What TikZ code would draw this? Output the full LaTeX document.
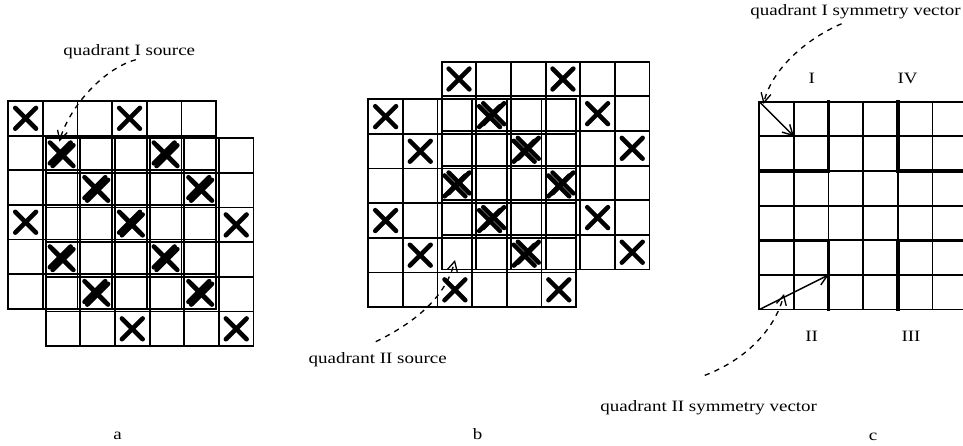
\documentclass[tikz,border=0pt]{standalone}
\usepackage{fontspec}
\setmainfont{Liberation Serif}
\usetikzlibrary{arrows.meta}

\begin{document}
\begin{tikzpicture}[x=0.02cm, y=-0.02cm]

\tikzset{
    cellline/.style={line width=1pt, line cap=rect},
    quadline/.style={line width=1.9pt, line cap=rect},
    cross/.style={line width=2.6pt, line cap=round},
    lbl/.style={font=\fontsize{9}{10.8}\selectfont, xscale=1.2, inner sep=0pt},
    callout/.style={dashed, line width=0.75pt, -{Straight Barb[length=1.9mm, width=2mm]}},
    symvec/.style={line width=0.8pt, -{Straight Barb[length=2mm, width=2.2mm]}}
}

\path[use as bounding box, fill=white] (0,0) rectangle (963,446);

\def\cs{0.693cm}

%====================================================
% LEFT (a): two layers, second one down-right
%====================================================
\foreach \ox/\oy in {8.3/101, 45.7/138.3}{
\begin{scope}[shift={(\ox,\oy)}, x=\cs, y=-\cs]
    % cells
    \foreach \i in {0,...,6}{
        \draw[cellline] (\i,0) -- (\i,6);
        \draw[cellline] (0,\i) -- (6,\i);
    }
    % crosses on every third diagonal
    \foreach \r in {0,...,5}{
        \foreach \c in {0,...,5}{
            \pgfmathtruncatemacro{\m}{mod(\c-\r+6,3)}
            \ifnum\m=0
                \draw[cross] (\c+0.2,\r+0.2) -- (\c+0.8,\r+0.8);
                \draw[cross] (\c+0.8,\r+0.2) -- (\c+0.2,\r+0.8);
            \fi
        }
    }
\end{scope}
}

\node[lbl, anchor=base west] (srcI) at (63,56) {quadrant I source};
\coordinate (srcIpt) at (59.3,141.7);
\draw[callout] ([xshift=0.13cm]srcI.south) .. controls (105,68) and (70,105) .. (srcIpt);

\node[lbl, anchor=base] (capA) at (117.5,439) {a};

%====================================================
% MIDDLE (b): two layers, second one up-right
%====================================================
\foreach \ox/\oy in {368.3/99.3, 441.7/61.7}{
\begin{scope}[shift={(\ox,\oy)}, x=\cs, y=-\cs]
    % cells
    \foreach \i in {0,...,6}{
        \draw[cellline] (\i,0) -- (\i,6);
        \draw[cellline] (0,\i) -- (6,\i);
    }
    % crosses on every third diagonal
    \foreach \r in {0,...,5}{
        \foreach \c in {0,...,5}{
            \pgfmathtruncatemacro{\m}{mod(\c-\r+6,3)}
            \ifnum\m=0
                \draw[cross] (\c+0.2,\r+0.2) -- (\c+0.8,\r+0.8);
                \draw[cross] (\c+0.8,\r+0.2) -- (\c+0.2,\r+0.8);
            \fi
        }
    }
\end{scope}
}

\node[lbl, anchor=base west] (srcII) at (308.3,363) {quadrant II source};
\coordinate (srcIIpt) at (455,260);
\draw[callout] ([xshift=-0.04cm, yshift=0.2cm]srcII.north) .. controls (410,325) and (445,300) .. (srcIIpt);

\node[lbl, anchor=base] (capB) at (477.5,439) {b};

%====================================================
% RIGHT (c): quadrants and symmetry vectors
%====================================================
\begin{scope}[shift={(759.3,101.7)}, x=\cs, y=-\cs]
    % cells
    \foreach \i in {0,...,6}{
        \draw[cellline] (\i,0) -- (\i,6);
        \draw[cellline] (0,\i) -- (6,\i);
    }
    % quadrant borders
    \foreach \q in {2,4}{
        \draw[quadline] (\q,0) -- (\q,2);
        \draw[quadline] (\q,4) -- (\q,6);
        \draw[quadline] (0,\q) -- (2,\q);
        \draw[quadline] (4,\q) -- (6,\q);
    }
    \coordinate (vIa) at (0,0);
    \coordinate (vIb) at (1,1);
    \coordinate (vIIa) at (0,6);
    \coordinate (vIIb) at (2,5);
\end{scope}

\draw[symvec] (vIa) -- (vIb);
\draw[symvec] (vIIa) -- (vIIb);

\node[lbl, anchor=base] (qI) at (811.7,84) {I};
\node[lbl, anchor=base] (qIV) at (907.5,84) {IV};
\node[lbl, anchor=base] (qII) at (811.7,341.7) {II};
\node[lbl, anchor=base] (qIII) at (911,341.7) {III};

\node[lbl, anchor=base west] (symI) at (750,16) {quadrant I symmetry vector};
\coordinate (symIpt) at (763.5,104);
\draw[callout] ([xshift=-0.28cm, yshift=-0.08cm]symI.south) .. controls (808,38) and (772,68) .. (symIpt);

\node[lbl, anchor=base west] (symII) at (600,411.7) {quadrant II symmetry vector};
\coordinate (symIIpt) at (784,294);
\draw[callout] ([xshift=-0.08cm, yshift=0.5cm]symII.north) .. controls (745,360) and (775,330) .. (symIIpt);

\node[lbl, anchor=base] (capC) at (873,440) {c};

\end{tikzpicture}
\end{document}
